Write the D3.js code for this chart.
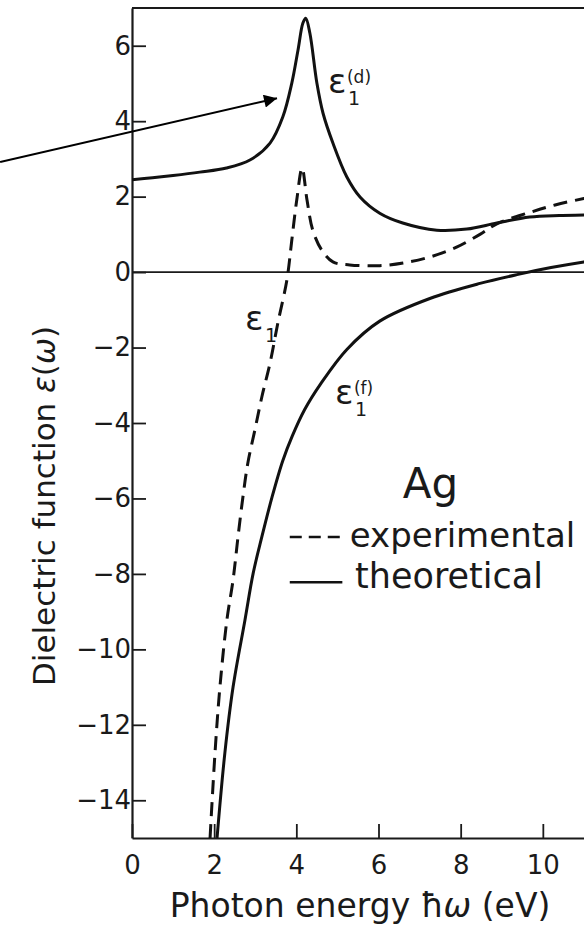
<!DOCTYPE html>
<html>
<head>
<meta charset="utf-8">
<script src="https://cdn.jsdelivr.net/npm/d3@7"></script>
<style>
  html, body { margin: 0; padding: 0; background: #fff; }
  svg { display: block; }
  text { font-family: "DejaVu Sans", "Liberation Sans", Arial, sans-serif; fill: #1a1a1a; }
</style>
</head>
<body>
<svg id="chart" width="584" height="929"></svg>
<script>
// ---- Data ----
// theoretical eps1^(d)
const energyD = [0, 0.5, 1.0, 1.65, 2.3, 2.87, 3.36, 3.67, 3.89, 4.04, 4.16, 4.23, 4.33, 4.50, 4.65, 4.89, 5.23, 5.55, 6.03, 6.59, 7.42, 8.15, 8.88, 9.68, 10.4, 11.0, 11.4];
const epsD    = [2.45, 2.50, 2.56, 2.65, 2.76, 2.97, 3.42, 4.11, 5.01, 5.88, 6.60, 6.73, 6.33, 5.01, 4.21, 3.42, 2.52, 1.99, 1.56, 1.30, 1.11, 1.14, 1.30, 1.46, 1.50, 1.51, 1.52];
// experimental eps1 (dashed)
const energyE = [1.90, 2.02, 2.14, 2.31, 2.46, 2.58, 2.70, 2.82, 2.99, 3.16, 3.36, 3.55, 3.77, 3.89, 4.01, 4.14, 4.26, 4.40, 4.62, 4.89, 5.30, 6.03, 6.60, 7.25, 7.90, 8.47, 8.88, 9.68, 10.3, 11.0, 11.4];
const epsE    = [-15.0, -12.75, -11.0, -9.22, -8.16, -7.02, -5.96, -5.06, -4.19, -3.31, -2.41, -1.35, -0.21, 0.85, 1.91, 2.76, 1.91, 1.11, 0.58, 0.27, 0.19, 0.17, 0.24, 0.40, 0.66, 1.00, 1.28, 1.58, 1.78, 1.95, 2.03];
// theoretical eps1^(f)
const energyF = [2.07, 2.26, 2.46, 2.75, 2.95, 3.16, 3.41, 3.67, 3.90, 4.20, 4.60, 5.23, 6.03, 7.25, 8.47, 9.40, 10.2, 11.0, 11.4];
const epsF    = [-15.0, -12.75, -11.0, -9.22, -7.98, -7.02, -5.96, -5.00, -4.35, -3.65, -2.95, -2.05, -1.30, -0.70, -0.30, -0.06, 0.12, 0.27, 0.33];

const xTicks = [0, 2, 4, 6, 8, 10];
const yTicks = [-14, -12, -10, -8, -6, -4, -2, 0, 2, 4, 6];
const xDomain = [0, 12];
const yDomain = [-15, 7];

// ---- Layout ----
const svg = d3.select("#chart");
const mLeft = 132, mRight = 625, mTop = 8, mBottom = 838;

const x = d3.scaleLinear().domain(xDomain).range([mLeft, mRight]);
const y = d3.scaleLinear().domain(yDomain).range([mBottom, mTop]);

const defs = svg.append("defs");
defs.append("clipPath").attr("id", "plotclip")
  .append("rect").attr("x", mLeft).attr("y", mTop)
  .attr("width", mRight - mLeft).attr("height", mBottom - mTop);

// zero line
svg.append("line")
  .attr("x1", x(0)).attr("x2", x(12))
  .attr("y1", y(0)).attr("y2", y(0))
  .attr("stroke", "#1a1a1a").attr("stroke-width", 1.8);

// frame top
svg.append("line")
  .attr("x1", mLeft).attr("x2", mRight)
  .attr("y1", mTop).attr("y2", mTop)
  .attr("stroke", "#1a1a1a").attr("stroke-width", 2);

// axes
const yAxis = d3.axisLeft(y).tickValues(yTicks).tickSizeInner(-14).tickSizeOuter(0).tickPadding(1);
const xAxis = d3.axisBottom(x).tickValues(xTicks).tickSizeInner(-14).tickSizeOuter(0).tickPadding(18);

const gy = svg.append("g").attr("transform", `translate(${mLeft},0)`).call(yAxis);
const gx = svg.append("g").attr("transform", `translate(0,${mBottom})`).call(xAxis);
[gx, gy].forEach(g => {
  g.select(".domain").attr("stroke", "#1a1a1a").attr("stroke-width", 2.2);
  g.selectAll(".tick line").attr("stroke", "#1a1a1a").attr("stroke-width", 1.8);
  g.selectAll(".tick text").attr("font-size", 26).attr("fill", "#1a1a1a")
    .attr("font-family", "'Liberation Sans', Arial, sans-serif");
});

// curves
const line = d3.line().x(d => x(d[0])).y(d => y(d[1])).curve(d3.curveCatmullRom.alpha(0.5));
const plot = svg.append("g").attr("clip-path", "url(#plotclip)");

plot.append("path").datum(energyD.map((e, i) => [e, epsD[i]]))
  .attr("d", line).attr("fill", "none").attr("stroke", "#111").attr("stroke-width", 3);
plot.append("path").datum(energyF.map((e, i) => [e, epsF[i]]))
  .attr("d", line).attr("fill", "none").attr("stroke", "#111").attr("stroke-width", 3);
plot.append("path").datum(energyE.map((e, i) => [e, epsE[i]]))
  .attr("d", line).attr("fill", "none").attr("stroke", "#111").attr("stroke-width", 3)
  .attr("stroke-dasharray", "14,8");

// arrow annotation
defs.append("marker").attr("id", "arrowhead")
  .attr("viewBox", "0 0 10 10").attr("refX", 10).attr("refY", 5)
  .attr("markerWidth", 9).attr("markerHeight", 6.5).attr("markerUnits", "strokeWidth")
  .attr("orient", "auto")
  .append("path").attr("d", "M0,0 L10,5 L0,10 z").attr("fill", "#000");
svg.append("line")
  .attr("x1", x(-3.21)).attr("y1", y(2.92))
  .attr("x2", x(3.53)).attr("y2", y(4.61))
  .attr("stroke", "#000").attr("stroke-width", 2)
  .attr("marker-end", "url(#arrowhead)");

// curve labels
function epsLabel(ex, ey, sup) {
  const g = svg.append("g").attr("transform", `translate(${x(ex)},${y(ey)})`);
  g.append("text").attr("x", 0).attr("y", 0).attr("font-size", 34).text("ε");
  g.append("text").attr("x", 20).attr("y", 12).attr("font-size", 19).text("1");
  if (sup) g.append("text").attr("x", 19).attr("y", -10).attr("font-size", 17).text(sup);
}
epsLabel(4.77, 4.74, "(d)");
epsLabel(2.75, -1.54, null);
epsLabel(4.94, -3.50, "(f)");

// Ag and legend
svg.append("text").attr("x", x(6.59)).attr("y", y(-6.0)).attr("font-size", 42).text("Ag");

svg.append("line")
  .attr("x1", x(3.84)).attr("x2", x(5.06)).attr("y1", y(-7.02)).attr("y2", y(-7.02))
  .attr("stroke", "#111").attr("stroke-width", 2.6).attr("stroke-dasharray", "12,7");
svg.append("text").attr("x", x(5.30)).attr("y", y(-7.29)).attr("font-size", 34).text("experimental");

svg.append("line")
  .attr("x1", x(3.84)).attr("x2", x(5.12)).attr("y1", y(-8.22)).attr("y2", y(-8.22))
  .attr("stroke", "#111").attr("stroke-width", 2.6);
svg.append("text").attr("x", x(5.43)).attr("y", y(-8.38)).attr("font-size", 35).text("theoretical");

// axis titles
const yt = svg.append("text")
  .attr("transform", "translate(55,506) rotate(-90)")
  .attr("text-anchor", "middle").attr("font-size", 31);
yt.append("tspan").text("Dielectric function ");
yt.append("tspan").attr("font-style", "italic").text("ε");
yt.append("tspan").text("(");
yt.append("tspan").attr("font-style", "italic").text("ω");
yt.append("tspan").text(")");

const xt = svg.append("text")
  .attr("x", 360).attr("y", 917)
  .attr("text-anchor", "middle").attr("font-size", 33);
xt.append("tspan").text("Photon energy ħ");
xt.append("tspan").attr("font-style", "italic").text("ω");
xt.append("tspan").text(" (eV)");
</script>
</body>
</html>
